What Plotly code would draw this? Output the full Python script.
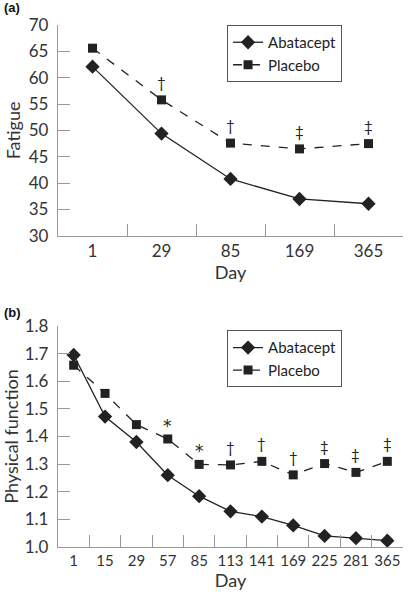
import plotly.graph_objects as go

# ---- Data ----
days_a = ["1", "29", "85", "169", "365"]
fatigue_abatacept = [62.1, 49.4, 40.8, 37.0, 36.1]
fatigue_placebo = [65.6, 55.8, 47.6, 46.5, 47.5]
fatigue_sig = ["", "†", "†", "‡", "‡"]

days_b = ["1", "15", "29", "57", "85", "113", "141", "169", "225", "281", "365"]
pf_abatacept = [1.695, 1.472, 1.380, 1.260, 1.184, 1.129, 1.110, 1.078, 1.040, 1.032, 1.023]
pf_placebo = [1.658, 1.556, 1.443, 1.391, 1.299, 1.297, 1.310, 1.261, 1.302, 1.270, 1.310]
pf_sig = ["", "", "", "*", "*", "†", "†", "†", "‡", "‡", "‡"]

yticks_a = [30, 35, 40, 45, 50, 55, 60, 65, 70]
yticks_b = [1.0, 1.1, 1.2, 1.3, 1.4, 1.5, 1.6, 1.7, 1.8]

FONT = "Lato"
INK = "#222222"
AXIS = "#999999"
TXT = "#333333"

fig = go.Figure()

def add_series(x, y, name, symbol, dash, xa, ya, legend, size):
    fig.add_trace(go.Scatter(
        x=x, y=y, name=name, mode="lines+markers",
        line=dict(color=INK, width=1.3, dash=dash),
        marker=dict(symbol=symbol, size=size, color=INK),
        xaxis=xa, yaxis=ya, legend=legend, showlegend=True))

add_series(days_a, fatigue_abatacept, "Abatacept", "diamond", "solid", "x", "y", "legend", 11)
add_series(days_a, fatigue_placebo, "Placebo", "square", "dash", "x", "y", "legend", 9)
add_series(days_b, pf_abatacept, "Abatacept", "diamond", "solid", "x2", "y2", "legend2", 11)
add_series(days_b, pf_placebo, "Placebo", "square", "dash", "x2", "y2", "legend2", 9)

annotations = []
for i, (v, s) in enumerate(zip(fatigue_placebo, fatigue_sig)):
    if s:
        annotations.append(dict(x=i, y=v, xref="x", yref="y", text=s, showarrow=False,
                                yshift=18, font=dict(family=FONT, size=15, color=INK)))
for i, (v, s) in enumerate(zip(pf_placebo, pf_sig)):
    if s:
        annotations.append(dict(x=i, y=v, xref="x2", yref="y2", text=s, showarrow=False,
                                yshift=18 if s != "*" else 13,
                                font=dict(family=FONT if s != "*" else "DejaVu Sans",
                                          size=15 if s != "*" else 17, color=INK)))

annotations.append(dict(x=-0.162, y=1.0326, xref="paper", yref="paper", text="<b>(a)</b>",
                        showarrow=False, xanchor="left", yanchor="middle",
                        font=dict(family="Liberation Sans", size=13, color="#111")))
annotations.append(dict(x=-0.162, y=0.450, xref="paper", yref="paper", text="<b>(b)</b>",
                        showarrow=False, xanchor="left", yanchor="middle",
                        font=dict(family="Liberation Sans", size=13, color="#111")))

axis_common = dict(showline=True, linecolor=AXIS, linewidth=1.3, ticks="inside",
                   tickcolor=AXIS, ticklen=12, tickwidth=1.3, showgrid=False, zeroline=False,
                   mirror=False, automargin=False)

def xfont(size):
    return dict(family=FONT, size=size, color=TXT)

fig.update_layout(
    width=408, height=600,
    margin=dict(l=58, r=5, t=25, b=53),
    paper_bgcolor="white", plot_bgcolor="white",
    font=dict(family=FONT, color=TXT),
    xaxis=dict(**axis_common, type="category", categoryorder="array", categoryarray=days_a,
               range=[-0.5, 4.5], tickson="boundaries", anchor="y", tickangle=0,
               tickfont=xfont(17),
               title=dict(text="Day", font=xfont(18), standoff=4)),
    yaxis=dict(**axis_common, domain=[0.596, 1.0], range=[30, 70], tickvals=yticks_a,
               ticklabelstandoff=5, anchor="x", tickfont=xfont(17),
               title=dict(text="Fatigue", font=xfont(18), standoff=3)),
    xaxis2=dict(**axis_common, type="category", categoryorder="array", categoryarray=days_b,
                range=[-0.5, 10.5], tickson="boundaries", anchor="y2", tickangle=0,
                tickfont=xfont(15),
                title=dict(text="Day", font=xfont(18), standoff=4)),
    yaxis2=dict(**axis_common, domain=[0.0, 0.4234], range=[1.0, 1.8], tickvals=yticks_b,
                tickformat=".1f", ticklabelstandoff=5, anchor="x2", tickfont=xfont(17),
                title=dict(text="Physical function", font=xfont(18), standoff=3)),
    legend=dict(x=0.49, y=1.0, xanchor="left", yanchor="top", bgcolor="white",
                bordercolor="#555", borderwidth=1, font=dict(family=FONT, size=15, color=INK),
                tracegroupgap=0, itemwidth=30),
    legend2=dict(x=0.49, y=0.415, xanchor="left", yanchor="top", bgcolor="white",
                 bordercolor="#555", borderwidth=1, font=dict(family=FONT, size=15, color=INK),
                 tracegroupgap=0, itemwidth=30),
    annotations=annotations,
)

fig.write_html("out.html", config={"displayModeBar": False},
               post_script="document.body.style.margin='0';")
